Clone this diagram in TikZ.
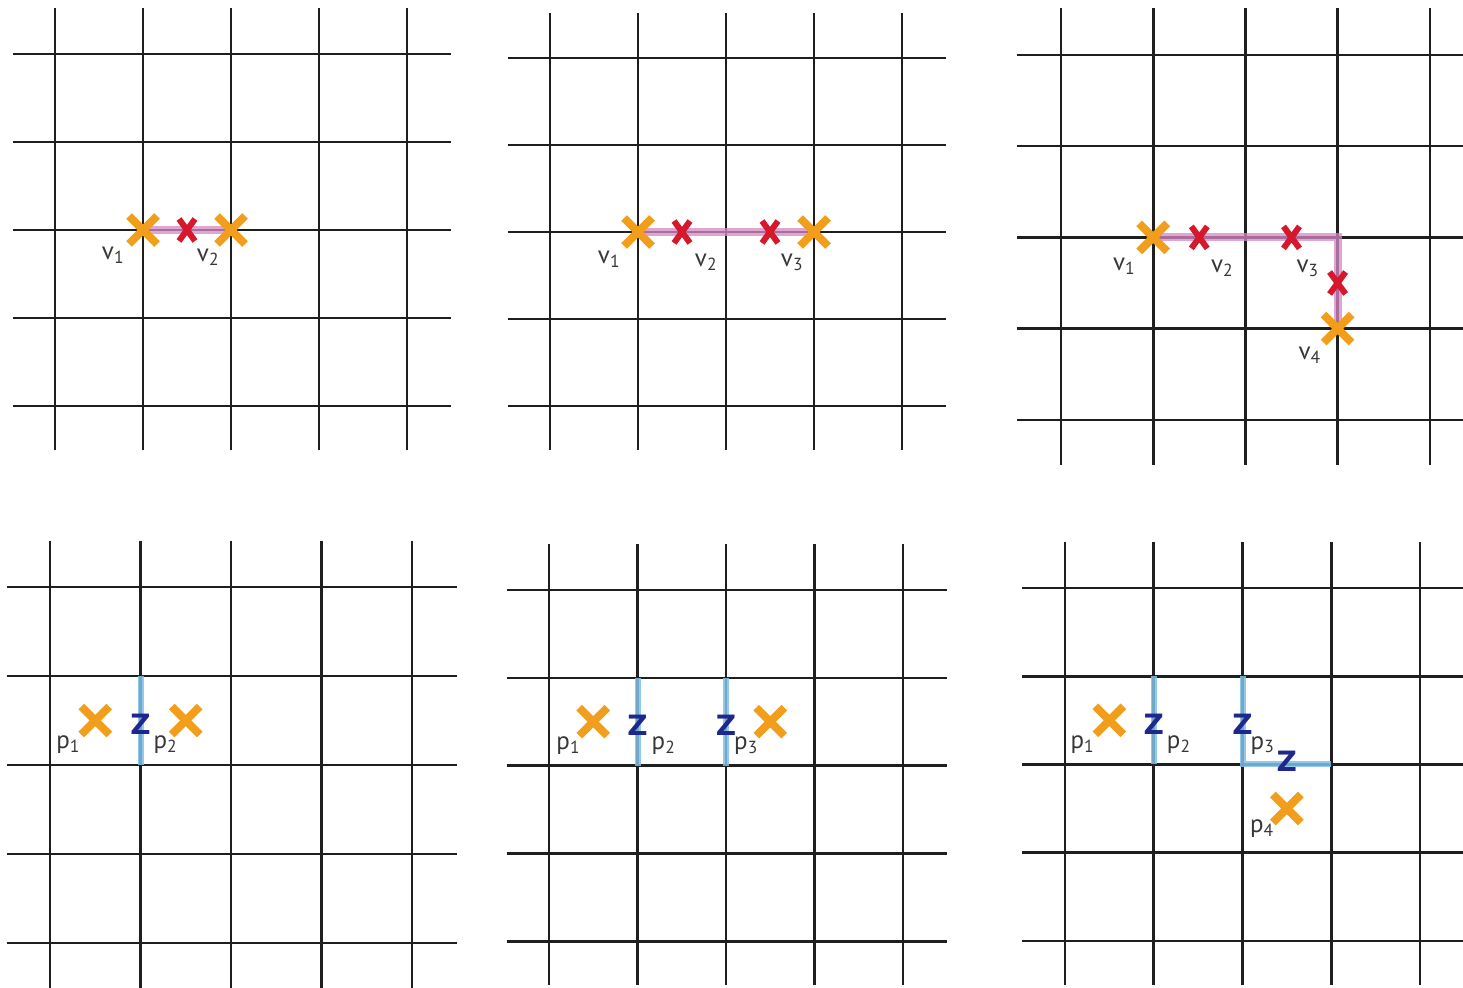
\documentclass[tikz,border=0pt]{standalone}
\usepackage{fontspec}
\setmainfont{PT Sans}
\newfontfamily\zfont{DejaVu Sans}
\usetikzlibrary{calc}

\definecolor{markorange}{RGB}{240,158,28}
\definecolor{markred}{RGB}{214,24,44}
\definecolor{walkpink}{RGB}{214,136,196}
\definecolor{cutblue}{RGB}{128,192,230}
\definecolor{zblue}{RGB}{30,40,140}
\definecolor{labgray}{RGB}{55,55,55}

% panel grid: name, x0, y0, sx, sy (pixels)
\newcommand\gridpanel[5]{%
  \foreach \i in {0,...,4}{%
    \foreach \j in {0,...,4}{\coordinate (#1-\i-\j) at ({#2+\i*#4},{#3+\j*#5});}
    \draw[gridline] ({#2+\i*#4},{#3-0.52*#5}) -- ({#2+\i*#4},{#3+4.5*#5});
    \draw[gridline] ({#2-0.48*#4},{#3+\i*#5}) -- ({#2+4.5*#4},{#3+\i*#5});
  }}
\newcommand\bigcross[1]{\draw[bigx] (#1) ++(-14,-14) -- ++(28,28) ++(-28,0) -- ++(28,-28);}
\newcommand\smallcross[1]{\draw[smallx] (#1) ++(-8,-11) -- ++(16,22) ++(-16,0) -- ++(16,-22);}

\begin{document}
\begin{tikzpicture}[x=1pt,y=-1pt,
  gridline/.style={line width=2.6pt,black!88},
  walkline/.style={line width=8pt,draw=walkpink,opacity=.75},
  cutline/.style={line width=6pt,draw=cutblue,opacity=.85},
  bigx/.style={line width=8pt,markorange},
  smallx/.style={line width=6pt,markred},
  vlabel/.style={font=\fontsize{25}{28}\selectfont,text=labgray,inner sep=0pt},
  zlabel/.style={font=\zfont\bfseries\fontsize{28}{30}\selectfont,text=zblue,inner sep=0pt}]
  \useasboundingbox (0,0) rectangle (1463,987);

  \gridpanel{A}{55}{54}{88}{88}
  \gridpanel{B}{550}{58}{88}{87}
  \gridpanel{C}{1061}{55}{92.2}{91.2}
  \gridpanel{D}{50}{587}{90.5}{89}
  \gridpanel{E}{549}{590}{88.5}{87.8}
  \gridpanel{F}{1065}{588}{88.75}{88.2}

  % top row: walks
  \draw[walkline] (A-1-2) -- (A-2-2);
  \draw[walkline] (B-1-2) -- (B-3-2);
  \draw[walkline] (C-1-2) -- (C-3-2) -- (C-3-3);

  \bigcross{A-1-2} \bigcross{A-2-2}
  \smallcross{$(A-1-2)!.5!(A-2-2)$}
  \bigcross{B-1-2} \bigcross{B-3-2}
  \smallcross{$(B-1-2)!.5!(B-2-2)$}
  \smallcross{$(B-2-2)!.5!(B-3-2)$}
  \bigcross{C-1-2} \bigcross{C-3-3}
  \smallcross{$(C-1-2)!.5!(C-2-2)$}
  \smallcross{$(C-2-2)!.5!(C-3-2)$}
  \smallcross{$(C-3-2)!.5!(C-3-3)$}

  \node[vlabel] (av1) at ([shift={(-30,25)}]A-1-2) {v\textsubscript{1}};
  \node[vlabel] (av2) at ([shift={(-23,27)}]A-2-2) {v\textsubscript{2}};
  \node[vlabel] (bv1) at ([shift={(-29,27)}]B-1-2) {v\textsubscript{1}};
  \node[vlabel] (bv2) at ([shift={(68,30)}]B-1-2) {v\textsubscript{2}};
  \node[vlabel] (bv3) at ([shift={(-22,30)}]B-3-2) {v\textsubscript{3}};
  \node[vlabel] (cv1) at ([shift={(-29,29)}]C-1-2) {v\textsubscript{1}};
  \node[vlabel] (cv2) at ([shift={(69,31)}]C-1-2) {v\textsubscript{2}};
  \node[vlabel] (cv3) at ([shift={(-30,31)}]C-3-2) {v\textsubscript{3}};
  \node[vlabel] (cv4) at ([shift={(-28,27)}]C-3-3) {v\textsubscript{4}};

  % bottom row: cuts
  \draw[cutline] (D-1-1) -- (D-1-2);
  \draw[cutline] (E-1-1) -- (E-1-2);
  \draw[cutline] (E-2-1) -- (E-2-2);
  \draw[cutline] (F-1-1) -- (F-1-2);
  \draw[cutline] (F-2-1) -- (F-2-2) -- (F-3-2);

  \bigcross{$(D-0-1)!.5!(D-1-2)$} \bigcross{$(D-1-1)!.5!(D-2-2)$}
  \bigcross{$(E-0-1)!.5!(E-1-2)$} \bigcross{$(E-2-1)!.5!(E-3-2)$}
  \bigcross{$(F-0-1)!.5!(F-1-2)$} \bigcross{$(F-2-2)!.5!(F-3-3)$}

  \node[zlabel] (dz1) at ([yshift=-4]$(D-1-1)!.5!(D-1-2)$) {Z};
  \node[zlabel] (ez1) at ([yshift=-4]$(E-1-1)!.5!(E-1-2)$) {Z};
  \node[zlabel] (ez2) at ([yshift=-4]$(E-2-1)!.5!(E-2-2)$) {Z};
  \node[zlabel] (fz1) at ([yshift=-4]$(F-1-1)!.5!(F-1-2)$) {Z};
  \node[zlabel] (fz2) at ([yshift=-4]$(F-2-1)!.5!(F-2-2)$) {Z};
  \node[zlabel] (fz3) at ([yshift=3]$(F-2-2)!.5!(F-3-2)$) {Z};

  \node[vlabel] (dp1) at ([shift={(-27,24)}]$(D-0-1)!.5!(D-1-2)$) {p\textsubscript{1}};
  \node[vlabel] (dp2) at ([shift={(25,24)}]$(D-1-1)!.5!(D-1-2)$) {p\textsubscript{2}};
  \node[vlabel] (ep1) at ([shift={(-25,24)}]$(E-0-1)!.5!(E-1-2)$) {p\textsubscript{1}};
  \node[vlabel] (ep2) at ([shift={(26,24)}]$(E-1-1)!.5!(E-1-2)$) {p\textsubscript{2}};
  \node[vlabel] (ep3) at ([shift={(20,24)}]$(E-2-1)!.5!(E-2-2)$) {p\textsubscript{3}};
  \node[vlabel] (fp1) at ([shift={(-27,24)}]$(F-0-1)!.5!(F-1-2)$) {p\textsubscript{1}};
  \node[vlabel] (fp2) at ([shift={(25,24)}]$(F-1-1)!.5!(F-1-2)$) {p\textsubscript{2}};
  \node[vlabel] (fp3) at ([shift={(20,25)}]$(F-2-1)!.5!(F-2-2)$) {p\textsubscript{3}};
  \node[vlabel] (fp4) at ([shift={(-25,20)}]$(F-2-2)!.5!(F-3-3)$) {p\textsubscript{4}};
\end{tikzpicture}
\end{document}
